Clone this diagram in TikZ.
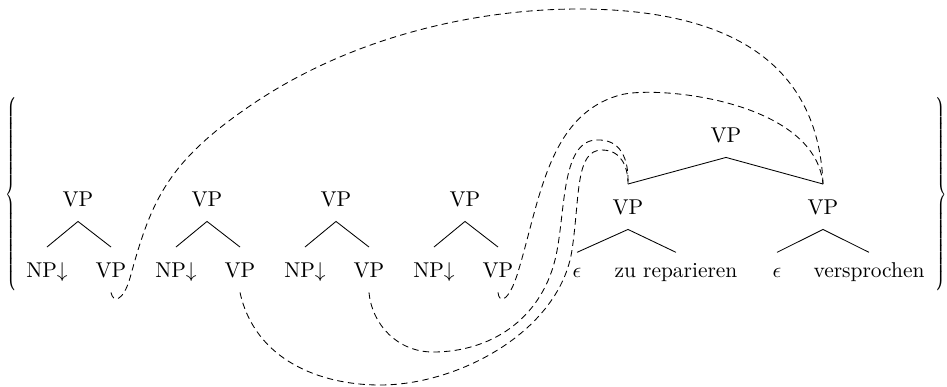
\documentclass[tikz,border=0pt]{standalone}
\usepackage{tikz}

\begin{document}
\begin{tikzpicture}[x=0.0164cm,y=-0.0164cm,
  cat/.style={anchor=base,inner xsep=0pt,inner ysep=7pt,text height=6.8pt,text depth=0pt},
  word/.style={cat,text height=1ex},
  link/.style={dash pattern=on 3pt off 2pt}]
\useasboundingbox (0,0) rectangle (947,386);
% braces round the set
\node[xscale=0.6,inner sep=0pt] (lbr) at (12,196)
  {$\left\{\vrule height 44pt depth 44pt width 0pt\right.$};
\node[xscale=0.6,inner sep=0pt] (rbr) at (940,196)
  {$\left.\vrule height 44pt depth 44pt width 0pt\right\}$};
% the four auxiliary trees
\foreach \i/\x in {1/78,2/207,3/336,4/465}{
  \node[cat] (r\i) at (\x,206) {VP};
  \node[cat] (np\i) at (\x-31,277) {NP$\downarrow$};
  \node[cat] (vp\i) at (\x+33,277) {VP};
  \draw (np\i.north) -- (r\i.south) -- (vp\i.north);
}
% the verbal complex
\node[cat] (top) at (726,142) {VP};
\node[cat] (lvp) at (628,214) {VP};
\node[cat] (rvp) at (823,214) {VP};
\node[word] (eps1) at (577,277) {$\epsilon$};
\node[word] (zu) at (676,277) {zu reparieren};
\node[word] (eps2) at (777,277) {$\epsilon$};
\node[word] (vers) at (869,277) {versprochen};
\draw (lvp.north) -- (top.south) -- (rvp.north);
\draw (eps1.north) -- (lvp.south) -- (zu.north);
\draw (eps2.north) -- (rvp.south) -- (vers.north);
% substitution links
\draw[link] (vp1.south) .. controls (113,303) and (123,302) .. (130,278)
  .. controls (150,205) and (165,165) .. (244,110)
  .. controls (350,35) and (480,9) .. (578,9)
  .. controls (710,9) and (818,50) .. (rvp.north);
\draw[link] (vp4.south) .. controls (499,304) and (509,302) .. (518,272)
  .. controls (540,200) and (548,115) .. (620,95)
  .. controls (656,85) and (815,100) .. (rvp.north);
\draw[link] (vp3.south) .. controls (372,325) and (398,352) .. (433,352)
  .. controls (490,352) and (540,320) .. (555,260)
  .. controls (566,216) and (560,140) .. (597,140)
  .. controls (620,139) and (629,158) .. (lvp.north);
\draw[link] (vp2.south) .. controls (255,360) and (320,385) .. (380,385)
  .. controls (460,385) and (560,330) .. (572,250)
  .. controls (580,197) and (575,150) .. (602,150)
  .. controls (622,150) and (628,168) .. (lvp.north);
\end{tikzpicture}
\end{document}
